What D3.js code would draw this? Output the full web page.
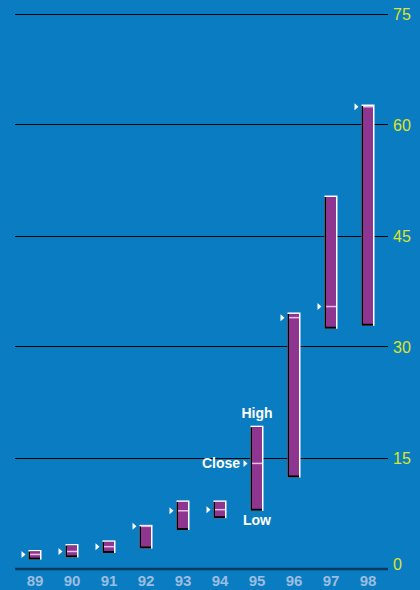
<!DOCTYPE html>
<html>
<head>
<meta charset="utf-8">
<script src="https://cdn.jsdelivr.net/npm/d3@7"></script>
<style>
  html, body { margin: 0; padding: 0; background: #0a7cc1; }
  svg { display: block; }
</style>
</head>
<body>
<svg id="chart" width="420" height="590"></svg>
<script>
// Yearly high / low / close ranges
const years = ["89", "90", "91", "92", "93", "94", "95", "96", "97", "98"];
const highs = [2.5, 3.3, 3.8, 5.9, 9.2, 9.2, 19.3, 34.6, 50.4, 62.7];
const lows  = [1.2, 1.5, 2.1, 2.7, 5.2, 6.8, 7.8, 12.3, 32.4, 32.8];
const closes = [1.9, 2.3, 2.95, 5.7, 7.8, 7.95, 14.2, 33.9, 35.4, 62.4];
const yTicks = [0, 15, 30, 45, 60, 75];

const data = years.map((y, i) => ({ year: y, high: highs[i], low: lows[i], close: closes[i] }));

const svg = d3.select("#chart");
const W = 420, H = 590;

svg.append("rect").attr("width", W).attr("height", H).attr("fill", "#0a7cc1");

const x = d3.scaleBand().domain(years).range([16.5, 386.5]);
const y = d3.scaleLinear().domain([0, 75]).range([568.5, 13.5]);

// Gridlines
svg.append("g").selectAll("line")
  .data(yTicks.filter(t => t > 0))
  .join("line")
  .attr("x1", 15).attr("x2", 388)
  .attr("y1", d => Math.round(y(d)) + 0.5).attr("y2", d => Math.round(y(d)) + 0.5)
  .attr("stroke", "#000").attr("stroke-width", 1);

// Baseline
svg.append("line")
  .attr("x1", 15).attr("x2", 388)
  .attr("y1", y(0) + 0.5).attr("y2", y(0) + 0.5)
  .attr("stroke", "#0a3a60").attr("stroke-width", 2.5);

// Right-hand value labels (zero sits just above the baseline)
svg.append("g").selectAll("text")
  .data(yTicks)
  .join("text")
  .attr("x", 393)
  .attr("y", d => y(d) + (d === 0 ? 1 : 6))
  .attr("fill", "#dde52a")
  .attr("font-family", "'Liberation Sans Narrow', 'Liberation Sans', sans-serif")
  .attr("font-size", 16)
  .text(d => d);

// Year labels
svg.append("g").selectAll("text")
  .data(years)
  .join("text")
  .attr("x", d => x(d) + x.bandwidth() / 2)
  .attr("y", 586)
  .attr("text-anchor", "middle")
  .attr("fill", "#9dbde0")
  .attr("font-family", "'Liberation Sans', Arial, sans-serif")
  .attr("font-weight", "bold")
  .attr("font-size", 15)
  .text(d => d);

// Range bars with bevelled edges
const bw = 13;
const g = svg.append("g");
const bars = g.selectAll("g.bar").data(data).join("g").attr("class", "bar");

bars.append("rect")
  .attr("x", d => x(d.year) + x.bandwidth() / 2 - bw / 2)
  .attr("y", d => y(d.high))
  .attr("width", bw)
  .attr("height", d => y(d.low) - y(d.high))
  .attr("fill", "#ffffff");

bars.append("rect")
  .attr("x", d => x(d.year) + x.bandwidth() / 2 - bw / 2)
  .attr("y", d => y(d.high) + 1.5)
  .attr("width", bw - 1.5)
  .attr("height", d => y(d.low) - y(d.high) - 1.5)
  .attr("fill", "#000000");

bars.append("rect")
  .attr("x", d => x(d.year) + x.bandwidth() / 2 - bw / 2 + 1.5)
  .attr("y", d => y(d.high) + 1.5)
  .attr("width", bw - 3)
  .attr("height", d => y(d.low) - y(d.high) - 3.5)
  .attr("fill", "#8e358f");

// Close marks
bars.append("line")
  .attr("x1", d => x(d.year) + x.bandwidth() / 2 - bw / 2 + 1.5)
  .attr("x2", d => x(d.year) + x.bandwidth() / 2 + bw / 2 - 1.5)
  .attr("y1", d => y(d.close))
  .attr("y2", d => y(d.close))
  .attr("stroke", "#e6bde6")
  .attr("stroke-width", 1.5);

bars.append("path")
  .attr("d", d => {
    const l = x(d.year) + x.bandwidth() / 2 - bw / 2;
    const c = y(d.close);
    return `M${l - 7},${c - 3.5}L${l - 3},${c}L${l - 7},${c + 3.5}Z`;
  })
  .attr("fill", "#ffffff");

// Key labels on the 1995 bar
const key = data[6];
const kx = x(key.year) + x.bandwidth() / 2;
const keyFont = { family: "'Liberation Sans', Arial, sans-serif", size: 14 };
function keyLabel(t, px, py, anchor) {
  svg.append("text")
    .attr("x", px).attr("y", py)
    .attr("text-anchor", anchor)
    .attr("fill", "#ffffff")
    .attr("font-family", keyFont.family)
    .attr("font-weight", "bold")
    .attr("font-size", keyFont.size)
    .text(t);
}
keyLabel("High", kx, y(key.high) - 8, "middle");
keyLabel("Low", kx, y(key.low) + 14, "middle");
keyLabel("Close", kx - bw / 2 - 10.5, y(key.close) + 5, "end");
</script>
</body>
</html>
